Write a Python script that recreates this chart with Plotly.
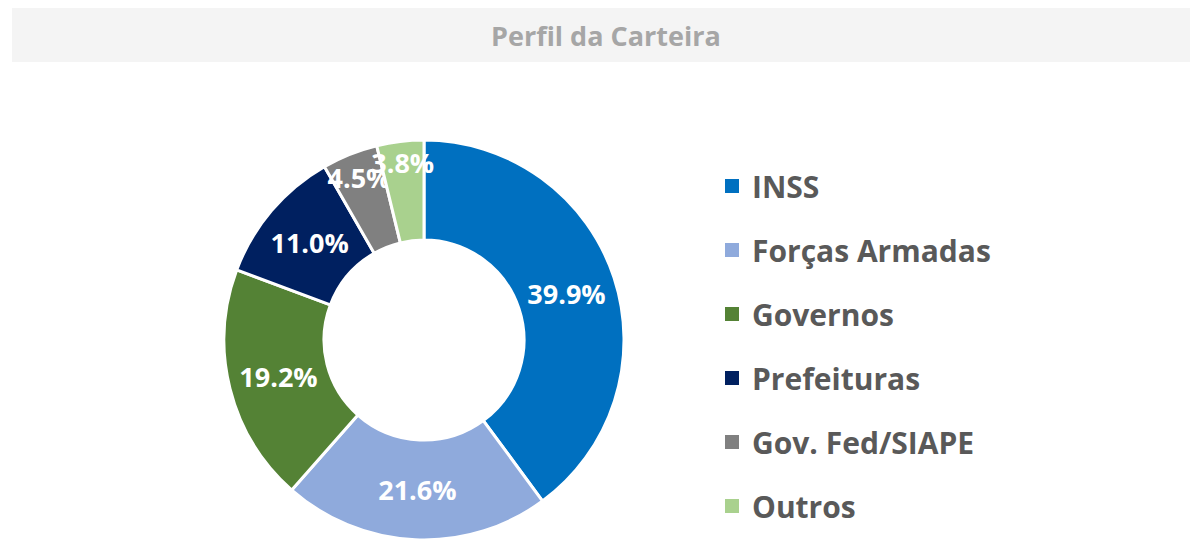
import plotly.graph_objects as go

categories = ["INSS", "Forças Armadas", "Governos", "Prefeituras", "Gov. Fed/SIAPE", "Outros"]
values = [39.9, 21.6, 19.2, 11.0, 4.5, 3.8]
colors = ["#0070C0", "#8FAADC", "#548235", "#002060", "#808080", "#A9D18E"]
labels_txt = [f"{v:.1f}%" for v in values]
title_text = "Perfil da Carteira"

W, H = 1204, 549
FONT = "Open Sans"

fig = go.Figure()
fig.add_trace(go.Pie(
    labels=categories, values=values, text=labels_txt,
    textinfo="text", textposition="inside", insidetextorientation="horizontal",
    sort=False, direction="clockwise", rotation=0, hole=0.5,
    marker=dict(colors=colors, line=dict(color="white", width=3)),
    textfont=dict(color="white", size=27, family=FONT, weight="bold"),
    domain=dict(x=[216 / W, 616 / W], y=[17 / H, 417 / H]),
    showlegend=False, hoverinfo="label+percent",
))

for i, (c, col) in enumerate(zip(categories, colors)):
    fig.add_trace(go.Scatter(
        x=[None], y=[None], mode="markers", name=c, legendgroup=f"g{i}",
        marker=dict(symbol="square", size=14, color=col),
        showlegend=True,
    ))

fig.update_layout(
    width=W, height=H,
    margin=dict(l=0, r=0, t=0, b=0),
    paper_bgcolor="white", plot_bgcolor="white",
    xaxis=dict(visible=False), yaxis=dict(visible=False),
    uniformtext=dict(minsize=27, mode="show"),
    legend=dict(
        x=704 / W, xanchor="left", y=1 - 152 / H, yanchor="top",
        font=dict(size=30, color="#595959", family=FONT, weight="bold"),
        tracegroupgap=22, bgcolor="rgba(0,0,0,0)",
    ),
    shapes=[dict(type="rect", xref="paper", yref="paper",
                 x0=4 / W, x1=1182 / W, y0=1 - 54 / H, y1=1.0,
                 fillcolor="#F4F4F4", line=dict(width=0), layer="below")],
    annotations=[dict(text=title_text, xref="paper", yref="paper",
                      x=598 / W, y=1 - 28 / H, xanchor="center", yanchor="middle",
                      showarrow=False,
                      font=dict(size=27, color="#A6A6A6", family=FONT, weight="bold"))],
)

fig.write_html("out.html")
